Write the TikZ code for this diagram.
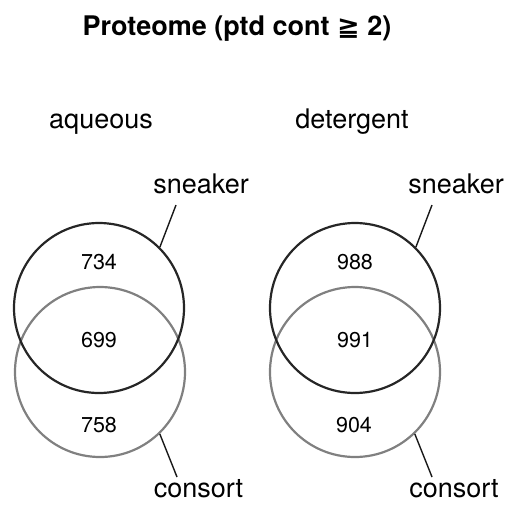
\documentclass[tikz,border=0pt]{standalone}
\usepackage{fontspec}
\setmainfont{TeX Gyre Heros}
\newfontfamily\symfnt{DejaVu Sans}
\begin{document}
\begin{tikzpicture}[x=1pt,y=-1pt,
  lbl/.style={anchor=base,inner sep=0pt,font=\fontsize{27}{30}\selectfont},
  ttl/.style={anchor=base,inner sep=0pt,font=\fontsize{27}{30}\selectfont\bfseries},
  num/.style={anchor=base,inner sep=0pt,font=\fontsize{21.5}{24}\selectfont},
  topc/.style={circle,draw=black!85,line width=2.2pt,minimum size=170pt,inner sep=0pt},
  botc/.style={circle,draw=black!50,line width=2.2pt,minimum size=170pt,inner sep=0pt},
  lead/.style={line width=1.4pt,draw=black!90}]
\useasboundingbox (0,0) rectangle (506,504);
\node[ttl] (title) at (237,35) {Proteome (ptd cont {\symfnt\bfseries ≧} 2)};
\node[lbl] (aq) at (101,128) {aqueous};
\node[lbl] (det) at (352,128) {detergent};
% left
\node[botc] (cL) at (100,372) {};
\node[topc] (sL) at (99,308) {};
\node[num] (n734) at (99,269) {734};
\node[num] (n699) at (99,347) {699};
\node[num] (n758) at (99,432) {758};
\node[lbl] (snL) at (201,193) {sneaker};
\node[lbl] (coL) at (198.5,497) {consort};
\coordinate (snLe) at (176,205);
\coordinate (coLe) at (177,477);
\draw[lead] (sL.45) -- (snLe);
\draw[lead] (cL.-46) -- (coLe);
% right
\node[botc] (cR) at (355,372) {};
\node[topc] (sR) at (355,308) {};
\node[num] (n988) at (355,269) {988};
\node[num] (n991) at (355,347) {991};
\node[num] (n904) at (354,432) {904};
\node[lbl] (snR) at (456,193) {sneaker};
\node[lbl] (coR) at (454,497) {consort};
\coordinate (snRe) at (432,205);
\coordinate (coRe) at (432,477);
\draw[lead] (sR.45) -- (snRe);
\draw[lead] (cR.-46) -- (coRe);
\end{tikzpicture}
\end{document}
